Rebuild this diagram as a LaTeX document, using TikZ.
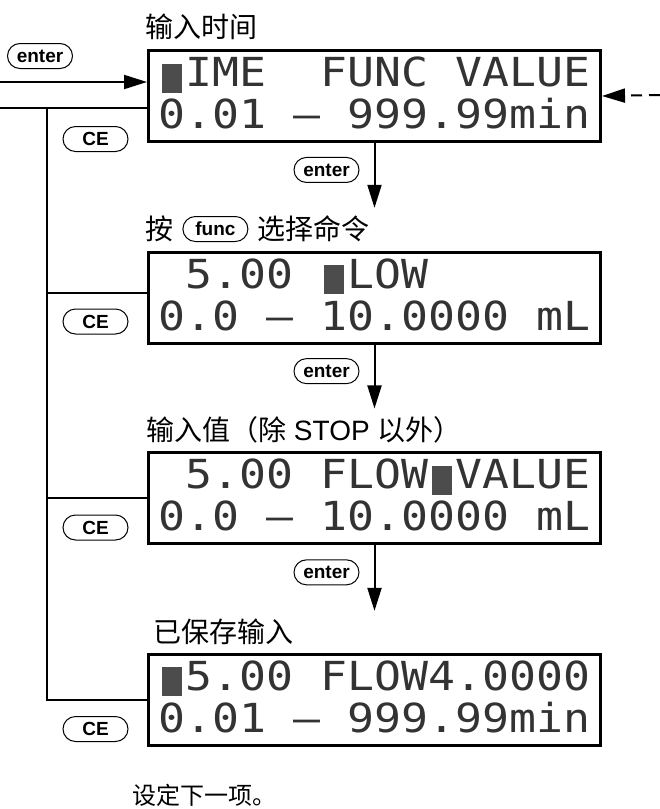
\documentclass[tikz,border=0pt]{standalone}
\usepackage{fontspec}
\setmainfont{Liberation Sans}
\newfontfamily\cjk{Noto Sans CJK SC}
\newfontfamily\lcdfont{DejaVu Sans Mono}[FakeStretch=1.12]
\usetikzlibrary{arrows.meta,positioning}
\newcommand\lcdcur{\makebox[27pt]{\textcolor{black!70}{\rule[-6pt]{20pt}{29pt}}}}
\tikzset{
  flow/.style={-{Triangle[length=23pt,width=14pt]},line width=2pt,draw=black},
  wire/.style={line width=2pt,draw=black},
  lcd/.style={draw=black,line width=3pt,minimum width=452pt,minimum height=91pt,inner sep=0pt,align=left,text depth=6pt,text=black!80,font=\lcdfont\fontsize{40}{42}\selectfont},
  key/.style={draw=black,line width=1pt,rounded corners=12.5pt,minimum width=65pt,minimum height=25pt,inner sep=0pt,font=\bfseries\fontsize{19}{19}\selectfont},
  caption/.style={inner sep=0pt,anchor=west,font=\cjk\fontsize{28}{28}\selectfont},
  note/.style={caption,font=\cjk\fontsize{24}{24}\selectfont}
}
\begin{document}
\begin{tikzpicture}[x=1pt,y=-1pt]
\useasboundingbox (0,0) rectangle (660,809);

\node[caption] (capA) at (145,27) {输入时间};
\node[lcd] (lcdA) at (374.5,96) {\lcdcur IME~~FUNC~VALUE\\0.01~–~999.99min};

\node[caption] (capB) at (145,229) {按};
\node[key,right=9pt of capB] (keyFunc) {func};
\node[caption,right=9pt of keyFunc] (capB2) {选择命令};
\node[lcd] (lcdB) at (374.5,297.5) {~5.00~\lcdcur LOW\\0.0~–~10.0000~mL};

\node[caption] (capC) at (146,430) {输入值（除{\rmfamily\ STOP\ }以外）};
\node[lcd] (lcdC) at (374.5,498) {~5.00~FLOW\lcdcur VALUE\\0.0~–~10.0000~mL};

\node[caption] (capD) at (153,632) {已保存输入};
\node[lcd] (lcdD) at (374.5,699.5) {\lcdcur 5.00~FLOW4.0000\\0.01~–~999.99min};

\node[note] (next) at (132,795) {设定下一项。};

\node[key] (keyIn) at (40,56) {enter};
\node[key] (ceA) at (95.5,139) {CE};
\node[key] (ceB) at (95.5,321.5) {CE};
\node[key] (ceC) at (95.5,527.5) {CE};
\node[key] (ceD) at (95.5,729) {CE};

\coordinate (entryA) at (0,82);
\coordinate (exitA) at (0,108);
\coordinate (feedA) at (660,95);
\coordinate (rail) at (47,108);

\draw[flow] (entryA) -- ([yshift=14pt]lcdA.west);
\draw[wire] ([yshift=-12pt]lcdA.west) -- (exitA);
\draw[wire] ([yshift=5pt]lcdB.west) -| (rail);
\draw[wire] (lcdC.west) -| (rail);
\draw[wire] (lcdD.west) -| (rail);
\draw[flow,dash pattern=on 11pt off 7pt] (feedA) -- (lcdA.east);

\draw[flow,shorten >=8pt] (lcdA.south) -- (lcdA.south |- capB.north) node[key,pos=.37,left=15pt] (keyA) {enter};
\draw[flow,shorten >=8pt] (lcdB.south) -- (lcdB.south |- capC.north) node[key,pos=.37,left=15pt] (keyB) {enter};
\draw[flow,shorten >=8pt] (lcdC.south) -- (lcdC.south |- capD.north) node[key,pos=.37,left=15pt] (keyC) {enter};
\end{tikzpicture}
\end{document}
